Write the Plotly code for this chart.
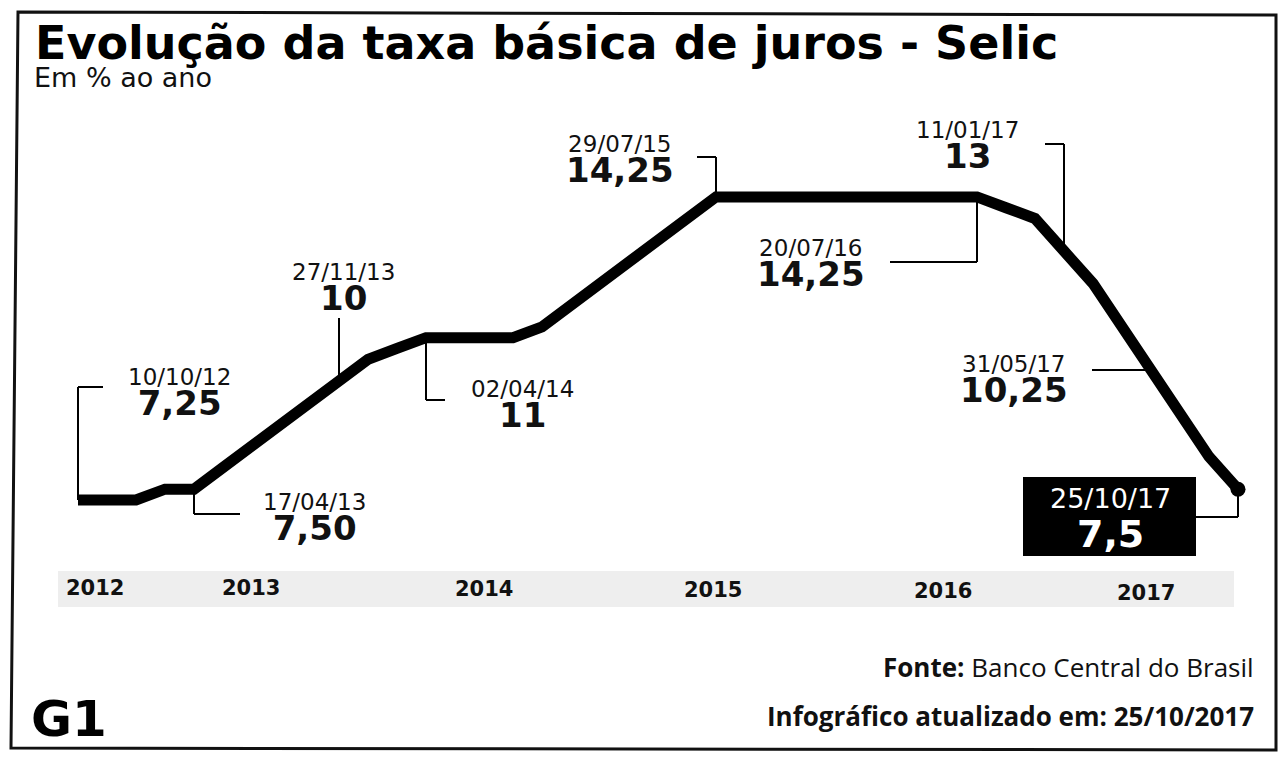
import plotly.graph_objects as go

# ---------------- data ----------------
meeting_dates = [
    "10/10/12", "28/11/12", "16/01/13", "06/03/13", "17/04/13", "29/05/13",
    "10/07/13", "28/08/13", "09/10/13", "27/11/13", "15/01/14", "26/02/14",
    "02/04/14", "28/05/14", "16/07/14", "03/09/14", "29/10/14", "03/12/14",
    "21/01/15", "04/03/15", "29/04/15", "03/06/15", "29/07/15", "02/09/15",
    "21/10/15", "25/11/15", "20/01/16", "02/03/16", "27/04/16", "08/06/16",
    "20/07/16", "31/08/16", "19/10/16", "30/11/16", "11/01/17", "22/02/17",
    "12/04/17", "31/05/17", "26/07/17", "06/09/17", "25/10/17",
]
selic_rates = [
    7.25, 7.25, 7.25, 7.50, 7.50, 8.00,
    8.50, 9.00, 9.50, 10.00, 10.50, 10.75,
    11.00, 11.00, 11.00, 11.00, 11.25, 11.75,
    12.25, 12.75, 13.25, 13.75, 14.25, 14.25,
    14.25, 14.25, 14.25, 14.25, 14.25, 14.25,
    14.25, 14.25, 14.00, 13.75, 13.00, 12.25,
    11.25, 10.25, 9.25, 8.25, 7.50,
]

callout_dates = ["10/10/12", "17/04/13", "27/11/13", "02/04/14", "29/07/15",
                 "20/07/16", "11/01/17", "31/05/17", "25/10/17"]
callout_values = ["7,25", "7,50", "10", "11", "14,25", "14,25", "13", "10,25", "7,5"]
# point of the line that each callout's leader touches
callout_anchor = ["10/10/12", "17/04/13", "27/11/13", "02/04/14", "29/07/15",
                  "31/08/16", "11/01/17", "31/05/17", "25/10/17"]

year_labels = ["2012", "2013", "2014", "2015", "2016", "2017"]

title_text = "Evolução da taxa básica de juros - Selic"
subtitle_text = "Em % ao ano"
source_text = "<b>Fonte:</b> Banco Central do Brasil"
update_text = "<b>Infográfico atualizado em: 25/10/2017</b>"

# ---------------- geometry (pixels) ----------------
W, H = 1286, 760
X0_PX, DX_PX = 78, 29          # pixel of first meeting, pixels per meeting
Y0_VAL, Y0_PX, DY_PX = 7.25, 500, 43.3   # value at reference pixel, pixels per point

x_range = [-X0_PX / DX_PX, (W - X0_PX) / DX_PX]
y_range = [Y0_VAL - (H - Y0_PX) / DY_PX, Y0_VAL + Y0_PX / DY_PX]


def dx(p):  # pixel -> x data (category serial)
    return (p - X0_PX) / DX_PX


def dy(p):  # pixel -> y data
    return Y0_VAL + (Y0_PX - p) / DY_PX


def fx(p):
    return p / W


def fy(p):
    return 1 - p / H


# callout label block centre (date over value) and leader elbows in pixels
callout_layout = [
    dict(c=(179, 394), start=(103, 387), kind="hv"),
    dict(c=(314, 518), start=(240, 514), kind="hv"),
    dict(c=(343, 288), start=(None, 318), kind="v"),
    dict(c=(522, 405), start=(445, 400), kind="hv"),
    dict(c=(620, 161), start=(697, 157), kind="hv"),
    dict(c=(811, 265), start=(890, 262), kind="hv"),
    dict(c=(967, 146), start=(1045, 144), kind="hv"),
    dict(c=(1014, 380), start=(1092, None), kind="h"),
    dict(c=(1110, 519), start=(1195, 517), kind="hv", box=(1023, 477, 1196, 556)),
]
year_px = [(95, 588), (251, 588), (484, 589), (713, 590), (943, 591), (1146, 593)]

fig = go.Figure()

fig.add_trace(go.Scatter(
    x=meeting_dates, y=selic_rates, mode="lines",
    line=dict(color="#000000", width=11, shape="linear"),
    hoverinfo="skip", showlegend=False, cliponaxis=False,
))
fig.add_trace(go.Scatter(
    x=[meeting_dates[-1]], y=[selic_rates[-1]], mode="markers",
    marker=dict(color="#000000", size=15),
    hoverinfo="skip", showlegend=False, cliponaxis=False,
))

shapes = []
annotations = []

# frame of the scanned infographic
shapes.append(dict(type="path", xref="paper", yref="paper",
                   path=f"M {fx(18)} {fy(12)} L {fx(1276)} {fy(15)} L {fx(1276)} {fy(750)} "
                        f"L {fx(11)} {fy(748)} Z",
                   line=dict(color="#111111", width=3), fillcolor="rgba(0,0,0,0)", layer="below"))

# year band
shapes.append(dict(type="rect", xref="paper", yref="paper",
                   x0=fx(58), x1=fx(1234), y0=fy(571), y1=fy(607),
                   fillcolor="#eeeeee", line=dict(width=0), layer="below"))

for cd, cv, ca, lay in zip(callout_dates, callout_values, callout_anchor, callout_layout):
    i = meeting_dates.index(ca)
    ax_, ay_ = i, selic_rates[i]
    sx, sy = lay["start"]
    lw = dict(color="#000000", width=2)
    if lay["kind"] == "hv":
        shapes.append(dict(type="line", xref="x", yref="y", x0=dx(sx), y0=dy(sy), x1=ax_, y1=dy(sy), line=lw))
        shapes.append(dict(type="line", xref="x", yref="y", x0=ax_, y0=dy(sy), x1=ax_, y1=ay_, line=lw))
    elif lay["kind"] == "v":
        shapes.append(dict(type="line", xref="x", yref="y", x0=ax_, y0=dy(sy), x1=ax_, y1=ay_, line=lw))
    else:
        shapes.append(dict(type="line", xref="x", yref="y", x0=dx(sx), y0=ay_, x1=ax_, y1=ay_, line=lw))

    if "box" in lay:
        bx0, by0, bx1, by1 = lay["box"]
        shapes.append(dict(type="rect", xref="paper", yref="paper",
                           x0=fx(bx0), x1=fx(bx1), y0=fy(by1), y1=fy(by0),
                           fillcolor="#000000", line=dict(width=0)))
        base, dsz, vsz, col = 30, 27, 38, "#ffffff"
    else:
        base, dsz, vsz, col = 23, 23, 34, "#111111"

    txt = (f"<span style='font-size:{dsz}px'>{cd}</span><br>"
           f"<b><span style='font-size:{vsz}px'>{cv}</span></b>")
    annotations.append(dict(text=txt, x=fx(lay["c"][0]), y=fy(lay["c"][1]), xref="paper", yref="paper",
                            xanchor="center", yanchor="middle", align="center", showarrow=False,
                            font=dict(family="DejaVu Sans", size=base, color=col)))

for yl, (px_, py_) in zip(year_labels, year_px):
    annotations.append(dict(text=f"<b>{yl}</b>", x=fx(px_), y=fy(py_), xref="paper", yref="paper",
                            xanchor="center", yanchor="middle", showarrow=False,
                            font=dict(family="DejaVu Sans", size=21, color="#111111")))

annotations += [
    dict(text=f"<b>{title_text}</b>", x=fx(33), y=fy(43), xref="paper", yref="paper",
         xanchor="left", yanchor="middle", showarrow=False,
         font=dict(family="DejaVu Sans", size=46, color="#000000")),
    dict(text=subtitle_text, x=fx(32), y=fy(77), xref="paper", yref="paper",
         xanchor="left", yanchor="middle", showarrow=False,
         font=dict(family="DejaVu Sans", size=27, color="#111111")),
    dict(text=source_text, x=fx(1256), y=fy(667), xref="paper", yref="paper",
         xanchor="right", yanchor="middle", showarrow=False,
         font=dict(family="Open Sans", size=26, color="#111111")),
    dict(text=update_text, x=fx(1256), y=fy(716), xref="paper", yref="paper",
         xanchor="right", yanchor="middle", showarrow=False,
         font=dict(family="Open Sans", size=26, color="#111111")),
    dict(text="<b>G1</b>", x=fx(29), y=fy(719), xref="paper", yref="paper",
         xanchor="left", yanchor="middle", showarrow=False,
         font=dict(family="DejaVu Sans", size=50, color="#000000")),
]

fig.update_layout(
    width=W, height=H,
    margin=dict(l=0, r=0, t=0, b=0),
    paper_bgcolor="#ffffff", plot_bgcolor="#ffffff",
    xaxis=dict(type="category", categoryorder="array", categoryarray=meeting_dates,
               range=x_range, visible=False, fixedrange=True),
    yaxis=dict(range=y_range, visible=False, fixedrange=True),
    shapes=shapes, annotations=annotations, showlegend=False,
)

fig.write_html(
    "out.html",
    config={"displayModeBar": False},
    post_script="document.body.style.margin='0';document.body.style.overflow='hidden';",
)
